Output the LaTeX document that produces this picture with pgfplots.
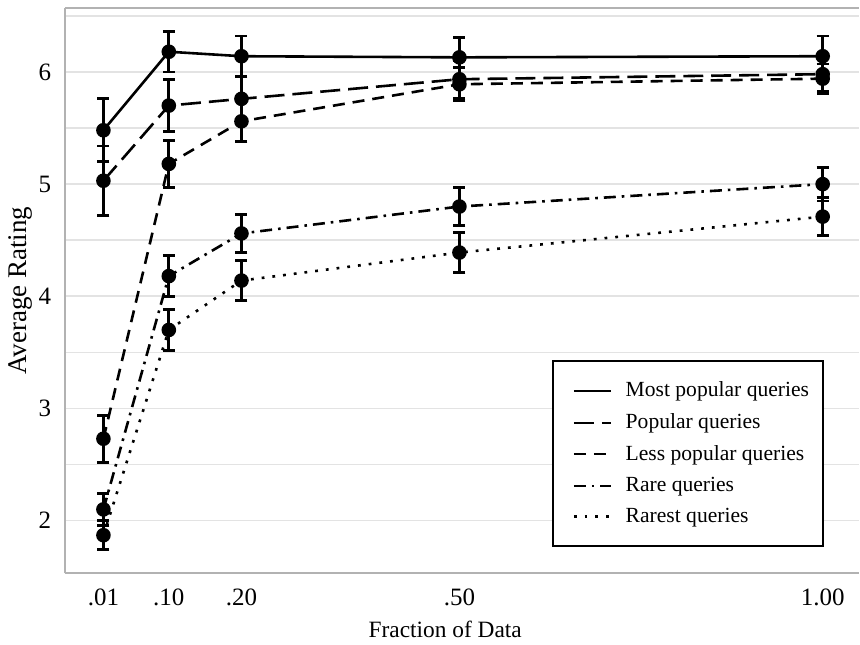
\documentclass[border=0pt]{standalone}
\usepackage{pgfplots}
\pgfplotsset{compat=1.18}
\usepackage{fontspec}
\setmainfont{Liberation Serif}

\begin{document}
\fontsize{11}{13}\selectfont
\begin{tikzpicture}
\begin{axis}[
    scale only axis,
    width=397.5pt,
    height=283pt,
    xmin=-0.043, xmax=1.05,
    ymin=1.53, ymax=6.57,
    xtick={0.01,0.1,0.2,0.5,1},
    xticklabels={.01,.10,.20,.50,1.00},
    ytick={2,3,4,5,6},
    minor ytick={1.5,2.5,3.5,4.5,5.5,6.5},
    ymajorgrids, yminorgrids,
    grid style={gray!22, line width=0.8pt},
    major tick length=0pt, minor tick length=0pt,
    axis x line*=bottom, axis y line*=left,
    axis line style={gray!60, line width=1pt, -},
    /pgf/number format/assume math mode=true,
    tick label style={font=\fontsize{12.5}{14}\selectfont, black},
    xticklabel style={yshift=-4pt},
    yticklabel style={xshift=-3pt},
    xlabel={Fraction of Data},
    ylabel={Average Rating},
    every axis x label/.style={at={(axis description cs:0.479,0)}, anchor=center, yshift=-28pt,
        font=\fontsize{11.7}{13}\selectfont},
    every axis y label/.style={at={(axis description cs:0,0.5)}, rotate=90, anchor=center, yshift=22pt,
        font=\fontsize{13.5}{15}\selectfont},
    legend cell align=left,
    legend style={at={(0.956,0.046)}, anchor=south east,
        draw=black, line width=1pt, font=\fontsize{10.8}{13}\selectfont,
        row sep=2.7pt, inner xsep=5pt, inner ysep=8.5pt,
        nodes={inner xsep=2pt}},
    legend image code/.code={%
        \path[draw=none, fill=none] (-5.5pt,0pt) (0.65cm+5.5pt,0pt);
        \draw[#1, mark=none, line width=1.1pt] (0cm,0cm) -- (0.65cm,0cm);},
    every axis plot/.append style={black, line width=1.3pt, mark=*, mark size=3pt},
    error bars/y dir=both, error bars/y explicit,
    error bars/error bar style={solid, line width=1.4pt},
    error bars/error mark options={rotate=90, mark size=3pt, line width=1.4pt, solid},
]
\addplot[solid, mark options={solid}] coordinates {
    (0.01,5.48) +- (0,0.28)
    (0.10,6.18) +- (0,0.18)
    (0.20,6.14) +- (0,0.18)
    (0.50,6.13) +- (0,0.18)
    (1.00,6.14) +- (0,0.18)
};
\addlegendentry{Most popular queries}
\addplot[dash pattern=on 10pt off 4pt, mark options={solid}] coordinates {
    (0.01,5.03) +- (0,0.31)
    (0.10,5.70) +- (0,0.23)
    (0.20,5.76) +- (0,0.20)
    (0.50,5.935) +- (0,0.17)
    (1.00,5.98) +- (0,0.15)
};
\addlegendentry{Popular queries}
\addplot[dash pattern=on 6pt off 4pt, mark options={solid}] coordinates {
    (0.01,2.73) +- (0,0.21)
    (0.10,5.18) +- (0,0.21)
    (0.20,5.56) +- (0,0.18)
    (0.50,5.89) +- (0,0.15)
    (1.00,5.94) +- (0,0.13)
};
\addlegendentry{Less popular queries}
\addplot[dash pattern=on 6pt off 3pt on 1.3pt off 3pt, mark options={solid}] coordinates {
    (0.01,2.10) +- (0,0.14)
    (0.10,4.18) +- (0,0.18)
    (0.20,4.56) +- (0,0.17)
    (0.50,4.80) +- (0,0.17)
    (1.00,5.00) +- (0,0.15)
};
\addlegendentry{Rare queries}
\addplot[dash pattern=on 1.4pt off 4pt, mark options={solid}] coordinates {
    (0.01,1.87) +- (0,0.13)
    (0.10,3.70) +- (0,0.18)
    (0.20,4.14) +- (0,0.18)
    (0.50,4.39) +- (0,0.18)
    (1.00,4.71) +- (0,0.17)
};
\addlegendentry{Rarest queries}
\end{axis}
\draw[gray!60, line width=1pt] (current axis.north west) -- (current axis.north east);
\path ([yshift=4pt]current axis.north west);
\path ([xshift=-32.5pt]current axis.west);
\path ([yshift=-34pt]current axis.south);
\end{tikzpicture}
\end{document}
